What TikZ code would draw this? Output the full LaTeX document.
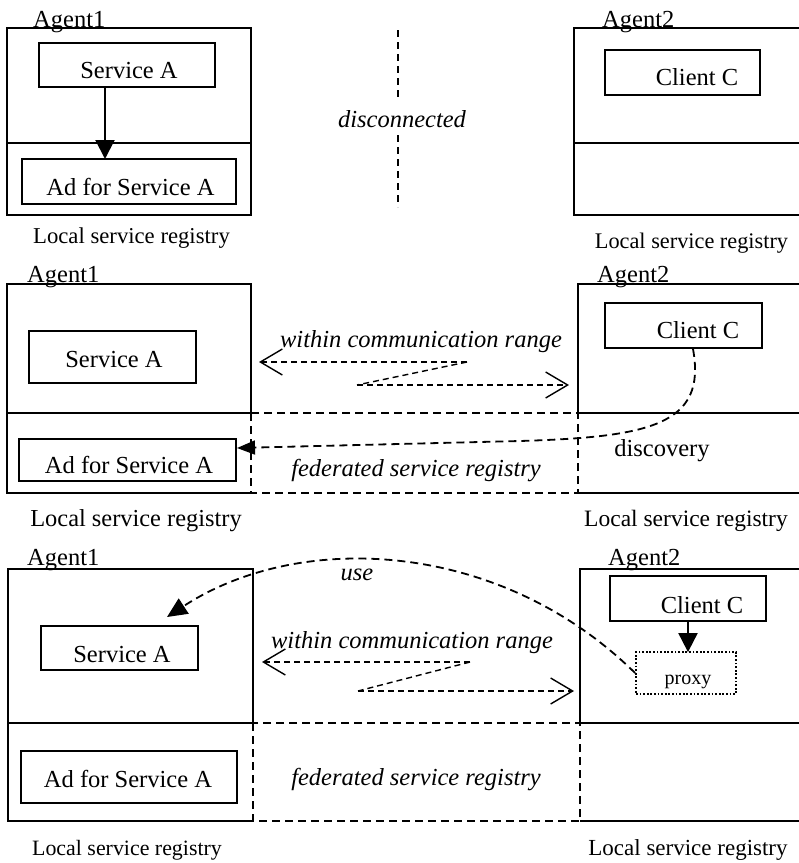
\documentclass[tikz,border=0pt]{standalone}
\usepackage{fontspec}
\setmainfont{Liberation Serif}
\usetikzlibrary{arrows.meta,calc}
\begin{document}
\begin{tikzpicture}[x=1pt,y=-1pt,
  wall/.style={line width=2pt},
  box/.style={draw, rectangle, line width=2pt, inner sep=0pt},
  proxybox/.style={draw, rectangle, line width=1.8pt, inner sep=0pt, dash pattern=on 1.8pt off 1.8pt},
  fedline/.style={line width=1.8pt, dash pattern=on 8pt off 5pt},
  sepline/.style={line width=1.8pt, dash pattern=on 7pt off 5pt},
  comm/.style={line width=1.4pt, dash pattern=on 6pt off 4pt},
  barb/.style={-{Straight Barb[length=22pt,width=26pt,line width=1.4pt]}},
  solidtip/.style={-{Triangle[length=19pt,width=19pt]}},
  txt/.style={inner sep=0pt, anchor=base, font=\fontsize{24.5}{28}\selectfont},
  ital/.style={inner sep=0pt, anchor=base, font=\fontsize{24.5}{28}\selectfont\itshape},
  agentlab/.style={inner sep=0pt, anchor=base west, font=\fontsize{24.5}{28}\selectfont},
  reg/.style={inner sep=0pt, anchor=base, font=\fontsize{#1}{26}\selectfont},
  small/.style={inner sep=0pt, anchor=base, font=\fontsize{20}{24}\selectfont}
]
\useasboundingbox (0,0) rectangle (799,863);
\clip (0,0) rectangle (799,863);

% ---------- stage 1: disconnected ----------
\draw[wall] (7,28) rectangle (251,215) (7,143) -- (251,143);
\draw[wall] (574,28) rectangle (812,215) (574,143) -- (812,143);
\node[agentlab] (ag1s1) at (33,27) {Agent1};
\node[agentlab] (ag2s1) at (602,27) {Agent2};
\node[box, minimum width=176pt, minimum height=44pt] (svc1) at (127,65) {};
\node[txt] (svc1t) at (129,78) {Service A};
\node[box, minimum width=214pt, minimum height=45pt] (ad1) at (129,181.5) {};
\node[txt] (ad1t) at (130.5,195) {Ad for Service A};
\coordinate (pub1) at (105,0);
\draw[wall, solidtip] (svc1.south -| pub1) -- ([yshift=-1pt]ad1.north -| pub1);
\node[box, minimum width=155pt, minimum height=45pt] (cli1) at (682.5,72.5) {};
\node[txt] (cli1t) at (697,85) {Client C};
\node[reg=22.7] (lsr1l) at (131.5,243) {Local service registry};
\node[reg=22.3] (lsr1r) at (691.5,248) {Local service registry};
\node[ital] (disc) at (402,127) {disconnected};
\draw[sepline] (398,30) -- (398,98) (398,135) -- (398,207);

% ---------- stage 2: discovery ----------
\draw[wall] (7,284) rectangle (251,413);
\draw[wall] (7,413) -- (7,493) -- (251,493);
\draw[wall] (578,284) rectangle (812,413);
\draw[wall] (578,493) -- (812,493);
\draw[fedline] (251,413) rectangle (578,493);
\node[agentlab] (ag1s2) at (27,282) {Agent1};
\node[agentlab] (ag2s2) at (597,282) {Agent2};
\node[box, minimum width=167pt, minimum height=52pt] (svc2) at (112.5,357) {};
\node[txt] (svc2t) at (114,367) {Service A};
\node[box, minimum width=217pt, minimum height=42pt] (ad2) at (127.5,460) {};
\node[txt] (ad2t) at (129,473) {Ad for Service A};
\node[box, minimum width=157pt, minimum height=45pt] (cli2) at (683.5,325.5) {};
\node[txt] (cli2t) at (698,338) {Client C};
\node[ital] (range2) at (421,347) {within communication range};
\coordinate (r2a) at (467,362);
\coordinate (r2b) at (357,385);
\coordinate (r2l) at (259,362);
\coordinate (r2r) at (569,385);
\draw[comm, barb] (r2a) -- (r2l);
\draw[comm] (r2a) -- (r2b);
\draw[comm, barb] (r2b) -- (r2r);
\node[ital] (fed2) at (416,476) {federated service registry};
\node[txt] (disc2t) at (662,456) {discovery};
\coordinate (d2x) at (693,0);
\coordinate (d2y) at (0,448);
\draw[fedline, -{Triangle[length=18pt,width=14pt]}] (cli2.south -| d2x) .. controls (707,425) and (650,437) .. (520,441) -- (ad2.east |- d2y);
\node[reg=24.4] (lsr2l) at (136,526) {Local service registry};
\node[reg=23.5] (lsr2r) at (686,526) {Local service registry};

% ---------- stage 3: use through proxy ----------
\draw[wall] (8,569) rectangle (253,723);
\draw[wall] (8,723) -- (8,821) -- (253,821);
\draw[wall] (580,569) rectangle (812,723);
\draw[wall] (580,821) -- (812,821);
\draw[fedline] (253,723) rectangle (580,821);
\node[agentlab] (ag1s3) at (27,565) {Agent1};
\node[agentlab] (ag2s3) at (608,565) {Agent2};
\node[box, minimum width=157pt, minimum height=44pt] (svc3) at (119.5,648) {};
\node[txt] (svc3t) at (122,662) {Service A};
\node[box, minimum width=216pt, minimum height=52pt] (ad3) at (129,777) {};
\node[txt] (ad3t) at (128,787) {Ad for Service A};
\node[box, minimum width=156pt, minimum height=45pt] (cli3) at (688,598.5) {};
\node[txt] (cli3t) at (702,613) {Client C};
\node[proxybox, minimum width=100pt, minimum height=42pt] (proxy) at (686,673) {};
\node[small] (proxyt) at (688,684) {proxy};
\draw[wall, solidtip] (cli3.south) -- ([yshift=-1pt]cli3.south |- proxy.north);
\node[ital] (range3) at (412,648) {within communication range};
\coordinate (r3a) at (470,662);
\coordinate (r3b) at (358,691);
\coordinate (r3l) at (262,662);
\coordinate (r3r) at (574,691);
\draw[comm, barb] (r3a) -- (r3l);
\draw[comm] (r3a) -- (r3b);
\draw[comm, barb] (r3b) -- (r3r);
\node[ital] (fed3) at (416,785) {federated service registry};
\node[ital] (uset) at (357,580) {use};
\coordinate (usetip) at (167,617);
\draw[fedline, -{Triangle[length=20pt,width=18pt]}] (proxy.west) .. controls (500,540) and (300,530) .. (usetip);
\node[reg=21.9] (lsr3l) at (127,855) {Local service registry};
\node[reg=23] (lsr3r) at (688,855) {Local service registry};
\end{tikzpicture}
\end{document}
